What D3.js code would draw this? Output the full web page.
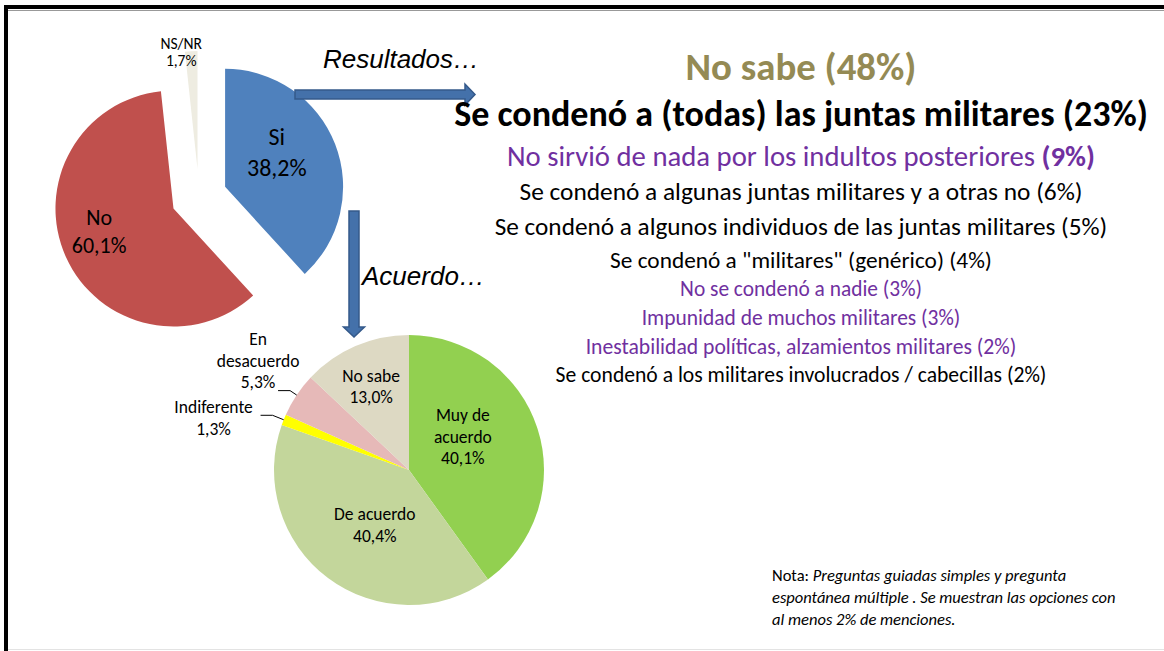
<!DOCTYPE html>
<html>
<head>
  <meta charset="UTF-8">
  <title>Juicio a las juntas militares</title>
  <style>
    body { margin: 0; background: #fff; }
    svg { display: block; }
    text { font-family: Carlito, Lato, sans-serif; fill: #000; }
    .it { font-family: "Liberation Sans", Arial, sans-serif; font-style: italic; }
  </style>
</head>
<body>
  <svg width="1164" height="651"></svg>

  <script src="https://d3js.org/d3.v7.min.js"></script>
  <script>
    // ¿Se condenó? (pregunta guiada simple)
    const pie1Labels = ["Si", "No", "NS/NR"];
    const pie1Values = [38.2, 60.1, 1.7];
    const pie1Colors = ["#4F81BD", "#C0504D", "#EEECE1"];

    // Acuerdo con la condena
    const pie2Labels = ["Muy de\nacuerdo", "De acuerdo", "Indiferente", "En\ndesacuerdo", "No sabe"];
    const pie2Values = [40.1, 40.4, 1.3, 5.3, 13.0];
    const pie2Colors = ["#92D050", "#C3D69B", "#FFFF00", "#E6B9B8", "#DDD9C3"];

    // Resultados... (espontánea múltiple)
    const resultTexts = [
      "No sabe",
      "Se condenó a (todas) las juntas militares",
      "No sirvió de nada por los indultos posteriores ",
      "Se condenó a algunas juntas militares y a otras no",
      "Se condenó a algunos individuos de las juntas militares",
      "Se condenó a \"militares\" (genérico) ",
      "No se condenó a nadie",
      "Impunidad de muchos militares",
      "Inestabilidad políticas, alzamientos militares",
      "Se condenó a los militares involucrados / cabecillas"
    ];
    const resultPcts = [48, 23, 9, 6, 5, 4, 3, 3, 2, 2];
    const resultColors = ["#948A54", "#000000", "#7030A0", "#000000", "#000000",
                          "#000000", "#7030A0", "#7030A0", "#7030A0", "#000000"];

    const noteLines = [
      ["Nota: ", "Preguntas guiadas simples y pregunta"],
      ["", "espontánea múltiple . Se muestran las opciones con"],
      ["", "al menos 2% de menciones."]
    ];

    const es = d3.formatLocale({ decimal: ",", thousands: ".", grouping: [3], currency: ["", "€"] });
    const pctFmt = v => es.format(".1f")(v) + "%";
    const rad = deg => deg * Math.PI / 180;

    const svg = d3.select("svg");

    // frame
    svg.append("line").attr("x1", 4).attr("x2", 1164).attr("y1", 10.5).attr("y2", 10.5)
      .attr("stroke", "#999").attr("stroke-width", 1);
    svg.append("line").attr("x1", 4).attr("x2", 1164).attr("y1", 7).attr("y2", 7)
      .attr("stroke", "#000").attr("stroke-width", 4);
    svg.append("line").attr("x1", 6).attr("x2", 6).attr("y1", 5).attr("y2", 651)
      .attr("stroke", "#000").attr("stroke-width", 4);
    svg.append("line").attr("x1", 8).attr("x2", 1164).attr("y1", 649.5).attr("y2", 649.5)
      .attr("stroke", "#e3e3e3").attr("stroke-width", 1);

    // multi-line label helper, block centred on (cx, cy)
    function block(g, x, cy, lines, size, step) {
      const y0 = cy - (lines.length - 1) * step / 2 + size * 0.35;
      const t = g.append("text").attr("text-anchor", "middle").attr("font-size", size);
      lines.forEach((s, i) => t.append("tspan").attr("x", x).attr("y", y0 + i * step).text(s));
      return t;
    }

    // ---- pie 1, exploded ----
    const c1 = [199, 197], r1 = 118, explode = 28;
    const pie = d3.pie().sort(null).value(d => d.v);
    const arcs1 = pie(pie1Labels.map((l, i) => ({ l, v: pie1Values[i], c: pie1Colors[i] })));
    const arc1 = d3.arc().innerRadius(0).outerRadius(r1);
    // label placement: fraction of radius and angle shift (deg) from slice middle
    const lab1 = { "Si": { k: 0.53, da: -13, size: 24, step: 31 }, "No": { k: 0.66, da: 7, size: 22, step: 28 } };

    const g1 = svg.append("g").attr("transform", `translate(${c1})`);
    arcs1.forEach(a => {
      const mid = (a.startAngle + a.endAngle) / 2;
      const off = d3.pointRadial(mid, explode);
      const gs = g1.append("g").attr("transform", `translate(${off})`);
      gs.append("path").attr("d", arc1(a)).attr("fill", a.data.c);
      const lines = [a.data.l, pctFmt(a.data.v)];
      const L = lab1[a.data.l];
      if (L) {
        const p = d3.pointRadial(mid + rad(L.da), r1 * L.k);
        block(gs, p[0], p[1], lines, L.size, L.step);
      } else {
        const p = d3.pointRadial(mid, r1);
        block(gs, p[0] - 10, p[1] + 1, lines, 15.5, 17);
      }
    });

    // ---- pie 2 ----
    const c2 = [409, 470], r2 = 135;
    const arcs2 = pie(pie2Labels.map((l, i) => ({ l, v: pie2Values[i], c: pie2Colors[i] })));
    const arc2 = d3.arc().innerRadius(0).outerRadius(r2);
    const lab2 = {
      "Muy de\nacuerdo": { k: 0.47, da: -14 },
      "De acuerdo": { k: 0.48, da: -5 },
      "No sabe": { k: 0.68, da: -1 },
      "Indiferente": { out: true, dx: -47, dy: 2.5, elbow: 12 },
      "En\ndesacuerdo": { out: true, dx: -20, dy: -30, elbow: 8 }
    };
    const g2 = svg.append("g").attr("transform", `translate(${c2})`);
    g2.selectAll("path.slice").data(arcs2).join("path").attr("class", "slice")
      .attr("d", arc2).attr("fill", d => d.data.c);
    arcs2.forEach(a => {
      const mid = (a.startAngle + a.endAngle) / 2;
      const L = lab2[a.data.l];
      const lines = a.data.l.split("\n").concat(pctFmt(a.data.v));
      if (L.out) {
        const p1 = d3.pointRadial(mid, r2);
        const p2 = d3.pointRadial(mid, r2 + L.elbow);
        const p3 = [p2[0] - 12, p2[1]];
        g2.append("polyline").attr("points", [p1, p2, p3].join(" "))
          .attr("fill", "none").attr("stroke", "#000").attr("stroke-width", 1);
        block(g2, p3[0] + L.dx, p3[1] + L.dy, lines, 17.5, 21.5);
      } else {
        const p = d3.pointRadial(mid + rad(L.da), r2 * L.k);
        block(g2, p[0], p[1], lines, 17.5, 21.5);
      }
    });

    // ---- arrows ----
    const arrowFill = "#4471AA", arrowLine = "#34598A";
    const hArrow = { x0: 295, x1: 465, tip: 475, y: 94.5, w: 4.5, hw: 10.5 };
    const vArrow = { y0: 211, y1: 327, tip: 337, x: 354, w: 5, hw: 10.5 };
    svg.append("path")
      .attr("d", d3.line()([
        [hArrow.x0, hArrow.y - hArrow.w], [hArrow.x1, hArrow.y - hArrow.w], [hArrow.x1, hArrow.y - hArrow.hw],
        [hArrow.tip, hArrow.y], [hArrow.x1, hArrow.y + hArrow.hw], [hArrow.x1, hArrow.y + hArrow.w],
        [hArrow.x0, hArrow.y + hArrow.w]]) + "Z")
      .attr("fill", arrowFill).attr("stroke", arrowLine).attr("stroke-width", 1.5);
    svg.append("path")
      .attr("d", d3.line()([
        [vArrow.x - vArrow.w, vArrow.y0], [vArrow.x - vArrow.w, vArrow.y1], [vArrow.x - vArrow.hw, vArrow.y1],
        [vArrow.x, vArrow.tip], [vArrow.x + vArrow.hw, vArrow.y1], [vArrow.x + vArrow.w, vArrow.y1],
        [vArrow.x + vArrow.w, vArrow.y0]]) + "Z")
      .attr("fill", arrowFill).attr("stroke", arrowLine).attr("stroke-width", 1.5);

    svg.append("text").attr("class", "it").attr("x", 401).attr("y", 68)
      .attr("text-anchor", "middle").attr("font-size", 26).text("Resultados…");
    svg.append("text").attr("class", "it").attr("x", 362).attr("y", 285)
      .attr("font-size", 26).text("Acuerdo…");

    // ---- results list, each line fitted to its width in the reference ----
    const listX = 801;
    const listY = [80, 126, 166, 200, 235, 268, 296, 325, 354, 382];
    const listW = [231, 694, 588, 563, 613, 382, 242, 319, 431, 491];
    resultTexts.forEach((txt, i) => {
      const t = svg.append("text").attr("x", listX).attr("y", listY[i])
        .attr("text-anchor", "middle").attr("font-size", 20)
        .attr("font-weight", i < 2 ? "bold" : "normal")
        .style("fill", resultColors[i]);
      t.append("tspan").text(txt + (i === 2 ? "" : " "));
      t.append("tspan").attr("font-weight", i <= 2 ? "bold" : "normal")
        .text(`(${resultPcts[i]}%)`);
      const w = t.node().getComputedTextLength();
      t.attr("font-size", 20 * listW[i] / w);
    });

    // ---- note ----
    noteLines.forEach((ln, i) => {
      const t = svg.append("text").attr("x", 772).attr("y", 581 + i * 22).attr("font-size", 16.5);
      if (ln[0]) t.append("tspan").text(ln[0]);
      t.append("tspan").attr("font-style", "italic").text(ln[1]);
    });
  </script>
</body>
</html>
